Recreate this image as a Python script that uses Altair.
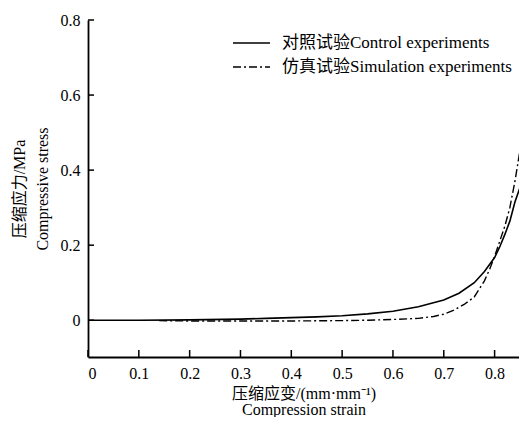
import altair as alt
import pandas as pd

# ---- data ----
strain_ctrl = [0, 0.1, 0.2, 0.3, 0.35, 0.4, 0.45, 0.5, 0.55, 0.6, 0.65, 0.7, 0.73, 0.76, 0.78, 0.8, 0.81, 0.82, 0.83, 0.84, 0.853]
stress_ctrl = [0, 0, 0.001, 0.003, 0.005, 0.007, 0.009, 0.012, 0.017, 0.024, 0.036, 0.054, 0.072, 0.1, 0.13, 0.167, 0.195, 0.228, 0.264, 0.315, 0.365]

strain_sim = [0.14, 0.2, 0.3, 0.4, 0.5, 0.55, 0.6, 0.65, 0.68, 0.7, 0.72, 0.74, 0.76, 0.78, 0.79, 0.8, 0.81, 0.82, 0.83, 0.84, 0.849]
stress_sim = [-0.001, -0.002, -0.002, -0.002, -0.001, 0.0, 0.002, 0.005, 0.01, 0.016, 0.027, 0.042, 0.062, 0.105, 0.135, 0.17, 0.21, 0.25, 0.3, 0.37, 0.445]

x_ticks = [0, 0.1, 0.2, 0.3, 0.4, 0.5, 0.6, 0.7, 0.8]
y_ticks = [0, 0.2, 0.4, 0.6, 0.8]
legend_labels = ["对照试验Control experiments", "仿真试验Simulation experiments"]
x_title = ["压缩应变/(mm·mm⁻¹)", "Compression strain"]
y_title = ["压缩应力/MPa", "Compressive stress"]

FONT = "'Times New Roman', 'Liberation Serif', 'Noto Sans CJK SC', serif"
W, H = 431, 337
DASH = [8, 3, 2, 3]

xs = alt.Scale(domain=[0, 0.848], nice=False, zero=False)
ys = alt.Scale(domain=[-0.098, 0.8], nice=False, zero=False)

ctrl = pd.DataFrame({"strain": strain_ctrl, "stress": stress_ctrl})
sim = pd.DataFrame({"strain": strain_sim, "stress": stress_sim})

x_axis = alt.Axis(values=x_ticks, format="~g", title=x_title, ticks=False, grid=False,
                  domainColor="black", domainWidth=1.8, labelFont=FONT, labelFontSize=16,
                  labelColor="black", labelPadding=8, titleFont=FONT, titleFontSize=16,
                  titleFontWeight="normal", titleColor="black", titleLineHeight=16,
                  titlePadding=4)
y_axis = alt.Axis(values=y_ticks, format="~g", title=y_title, ticks=False, grid=False,
                  domainColor="black", domainWidth=1.8, labelFont=FONT, labelFontSize=16,
                  labelColor="black", labelPadding=8, titleFont=FONT, titleFontSize=16,
                  titleFontWeight="normal", titleColor="black", titleLineHeight=23,
                  titlePadding=10)

X = alt.X("strain:Q", scale=xs, axis=x_axis)
Y = alt.Y("stress:Q", scale=ys, axis=y_axis)

line_ctrl = alt.Chart(ctrl).mark_line(color="black", strokeWidth=1.6, clip=True).encode(x=X, y=Y)
line_sim = alt.Chart(sim).mark_line(color="black", strokeWidth=1.4, strokeDash=DASH, clip=True).encode(x=X, y=Y)

xt = alt.Chart(pd.DataFrame({"strain": x_ticks})).mark_rule(color="black", strokeWidth=1.5).encode(
    x=X, y=alt.value(H), y2=alt.value(H - 7),
)
yt = alt.Chart(pd.DataFrame({"stress": y_ticks})).mark_rule(color="black", strokeWidth=1.5).encode(
    y=Y, x=alt.value(0), x2=alt.value(6),
)

leg_rows = [23, 47]
legend_layers = []
for i, lab in enumerate(legend_labels):
    d = pd.DataFrame({"label": [lab]})
    rule = alt.Chart(d).mark_rule(color="black", strokeWidth=1.6 if i == 0 else 1.4,
                                  strokeDash=[1, 0] if i == 0 else DASH).encode(
        x=alt.value(145), x2=alt.value(182), y=alt.value(leg_rows[i]))
    txt = alt.Chart(d).mark_text(align="left", baseline="middle", font=FONT, fontSize=17,
                                 color="black").encode(
        x=alt.value(194), y=alt.value(leg_rows[i]), text="label:N")
    legend_layers += [rule, txt]

chart = alt.layer(line_ctrl, line_sim, xt, yt, *legend_layers).properties(
    width=W, height=H,
    padding={"left": 80, "top": 12, "right": 0, "bottom": 60},
    autosize=alt.AutoSizeParams(type="none"),
    background="white",
).configure_view(stroke=None)

chart.save("out.html", embed_options={"renderer": "svg", "actions": False})
